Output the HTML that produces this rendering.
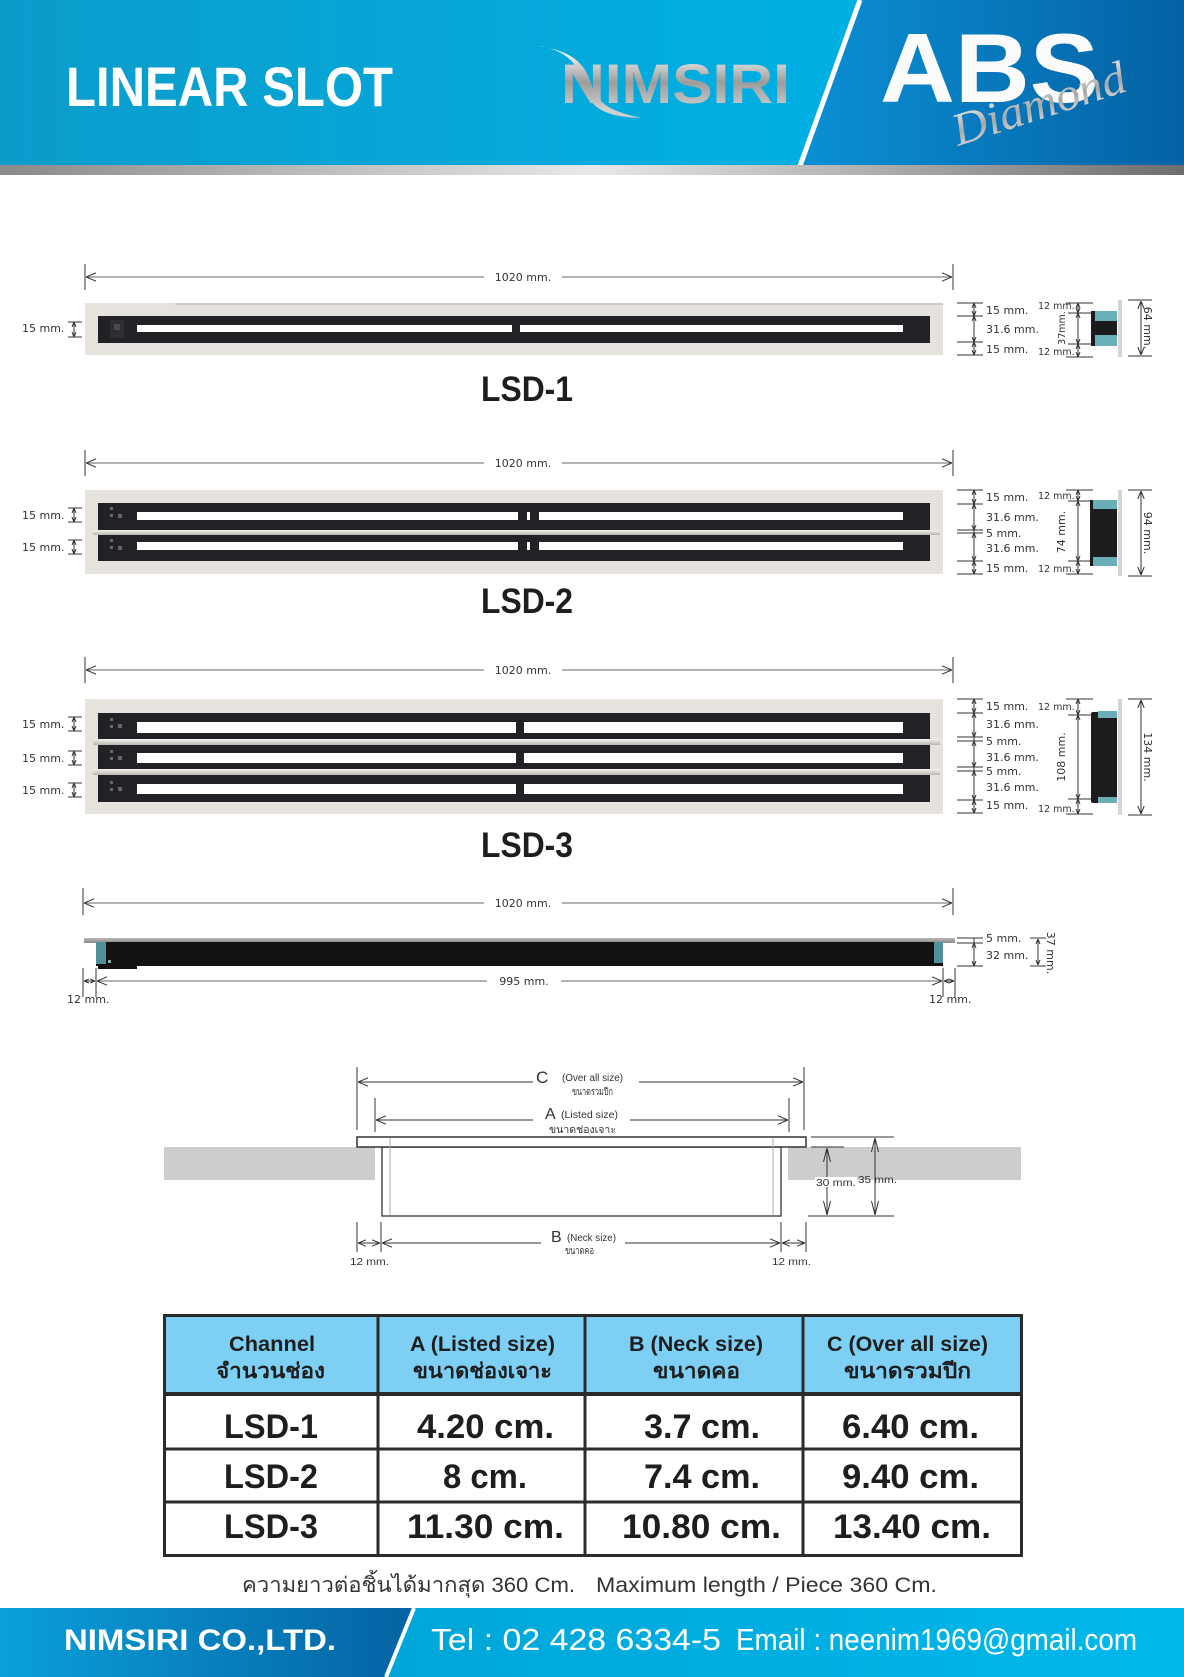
<!DOCTYPE html>
<html><head><meta charset="utf-8"><style>
html,body{margin:0;padding:0;background:#fff;}
svg{display:block;}
.d{font-family:"DejaVu Sans","Liberation Sans",sans-serif;font-size:11px;fill:#333;}
.s{font-family:"DejaVu Sans","Liberation Sans",sans-serif;font-size:9.5px;fill:#333;}
.n{font-family:"Liberation Sans","DejaVu Sans",sans-serif;fill:#333;}
.ln{stroke:#666;stroke-width:1;fill:none}
.tk{stroke:#333;stroke-width:1;fill:none}
.b{font-family:"Liberation Sans","DejaVu Sans",sans-serif;font-weight:bold;fill:#1e1e1e;}
</style></head><body>
<svg width="1184" height="1677" viewBox="0 0 1184 1677" xmlns="http://www.w3.org/2000/svg">
<defs>
<linearGradient id="hL" gradientUnits="userSpaceOnUse" x1="0" y1="0" x2="860" y2="0"><stop offset="0" stop-color="#0b9ccb"/><stop offset="1" stop-color="#00b0e3"/></linearGradient>
<linearGradient id="hR" gradientUnits="userSpaceOnUse" x1="800" y1="0" x2="1184" y2="0"><stop offset="0" stop-color="#0b8fd4"/><stop offset="1" stop-color="#0462a4"/></linearGradient>
<linearGradient id="gs" x1="0" y1="0" x2="1" y2="0"><stop offset="0" stop-color="#8a8a8a"/><stop offset="0.5" stop-color="#e8e8e8"/><stop offset="1" stop-color="#6e6e6e"/></linearGradient>
<linearGradient id="slv" gradientUnits="userSpaceOnUse" x1="0" y1="55" x2="0" y2="110"><stop offset="0" stop-color="#eeeeee"/><stop offset="0.5" stop-color="#9c9c9c"/><stop offset="1" stop-color="#d0d0d0"/></linearGradient>
<linearGradient id="dia" gradientUnits="userSpaceOnUse" x1="0" y1="-40" x2="0" y2="5"><stop offset="0" stop-color="#f2f2f2"/><stop offset="0.6" stop-color="#a8a8a8"/><stop offset="1" stop-color="#d8d8d8"/></linearGradient>
<linearGradient id="fL" gradientUnits="userSpaceOnUse" x1="0" y1="0" x2="414" y2="0"><stop offset="0" stop-color="#0aa0da"/><stop offset="1" stop-color="#0562a2"/></linearGradient>
<linearGradient id="fR" gradientUnits="userSpaceOnUse" x1="385" y1="0" x2="1184" y2="0"><stop offset="0" stop-color="#00a6d8"/><stop offset="1" stop-color="#00b8ec"/></linearGradient>
<linearGradient id="sv" x1="0" y1="0" x2="0" y2="1"><stop offset="0" stop-color="#f4f2ee"/><stop offset="1" stop-color="#b9b6b0"/></linearGradient>
<linearGradient id="sb" x1="0" y1="0" x2="0" y2="1"><stop offset="0" stop-color="#b8b8b8"/><stop offset="1" stop-color="#8a8a8a"/></linearGradient>
<marker id="a" viewBox="0 0 10 10" refX="10" refY="5" markerWidth="10" markerHeight="10" markerUnits="userSpaceOnUse" orient="auto-start-reverse"><path d="M0,0.8 L10,5 L0,9.2" fill="none" stroke="#333" stroke-width="1"/></marker>
<marker id="b" viewBox="0 0 10 10" refX="10" refY="5" markerWidth="5" markerHeight="5" markerUnits="userSpaceOnUse" orient="auto-start-reverse"><path d="M0,1 L10,5 L0,9" fill="none" stroke="#333" stroke-width="2"/></marker>
<marker id="m" viewBox="0 0 10 10" refX="10" refY="5" markerWidth="8" markerHeight="8" markerUnits="userSpaceOnUse" orient="auto-start-reverse"><path d="M0,1 L10,5 L0,9" fill="none" stroke="#333" stroke-width="1.3"/></marker>
<marker id="c" viewBox="0 0 14 8" refX="14" refY="4" markerWidth="14" markerHeight="8" markerUnits="userSpaceOnUse" orient="auto-start-reverse"><path d="M0,0.5 L14,4 L0,7.5" fill="none" stroke="#333" stroke-width="1"/></marker>
</defs>

<!-- HEADER -->
<rect x="0" y="0" width="1184" height="166" fill="url(#hL)"/>
<polygon points="859,0 1184,0 1184,166 799,166" fill="url(#hR)"/>
<line x1="860" y1="0" x2="800" y2="166" stroke="#fff" stroke-width="5"/>
<rect x="0" y="165" width="1184" height="10" fill="url(#gs)"/>
<text x="66" y="106" font-family="Liberation Sans, sans-serif" font-weight="bold" font-size="56" fill="#fff" textLength="327" lengthAdjust="spacingAndGlyphs">LINEAR SLOT</text>
<path d="M536,46 C566,48 580,66 585,88 C590,108 605,117 642,118 C612,112 598,104 592,86 C586,64 572,50 536,46 Z" fill="url(#slv)"/>
<text x="561" y="103" font-family="Liberation Sans, sans-serif" font-weight="bold" font-size="56" fill="url(#slv)" textLength="229" lengthAdjust="spacingAndGlyphs">NIMSIRI</text>
<text x="880" y="102" font-family="Liberation Sans, sans-serif" font-weight="bold" font-size="98" fill="#fbfbfb" textLength="219" lengthAdjust="spacingAndGlyphs">ABS</text>
<text x="0" y="0" transform="translate(958,146) rotate(-18)" font-family="Liberation Serif, serif" font-style="italic" font-size="46" fill="url(#dia)" textLength="180" lengthAdjust="spacingAndGlyphs">Diamond</text>

<!-- ========== LSD-1 ========== -->
<line x1="85" y1="264" x2="85" y2="290" class="tk"/>
<line x1="953" y1="264" x2="953" y2="290" class="tk"/>
<line x1="86" y1="277" x2="952" y2="277" class="ln" marker-start="url(#a)" marker-end="url(#a)"/>
<rect x="484" y="270" width="78" height="14" fill="#fff"/>
<text x="523" y="281" class="d" text-anchor="middle">1020 mm.</text>

<text x="22" y="332" class="d">15 mm.</text>
<line x1="68" y1="322" x2="82" y2="322" class="tk"/><line x1="68" y1="337" x2="82" y2="337" class="tk"/>
<line x1="74" y1="322" x2="74" y2="337" class="tk" marker-start="url(#b)" marker-end="url(#b)"/>

<rect x="85" y="303" width="858" height="52" fill="#e6e3de"/>
<rect x="175" y="303" width="768" height="2" fill="#cfccc7"/>
<rect x="98" y="316" width="832" height="27" fill="#222226"/>
<rect x="137" y="325" width="375" height="7" fill="#fff"/>
<rect x="520" y="325" width="383" height="7" fill="#fff"/>
<rect x="110" y="320" width="14" height="18" fill="#2e2e32"/>
<rect x="114" y="324" width="6" height="6" fill="#4a4a4e"/>

<g class="tk">
<line x1="957" y1="303" x2="983" y2="303"/><line x1="957" y1="316" x2="983" y2="316"/>
<line x1="957" y1="342" x2="983" y2="342"/><line x1="957" y1="355" x2="983" y2="355"/>
</g>
<line x1="974" y1="303" x2="974" y2="316" class="tk" marker-start="url(#b)" marker-end="url(#b)"/>
<line x1="974" y1="316" x2="974" y2="342" class="tk" marker-start="url(#b)" marker-end="url(#b)"/>
<line x1="974" y1="342" x2="974" y2="355" class="tk" marker-start="url(#b)" marker-end="url(#b)"/>
<text x="986" y="314" class="d">15 mm.</text>
<text x="986" y="333" class="d">31.6 mm.</text>
<text x="986" y="353" class="d">15 mm.</text>

<g class="tk">
<line x1="1066" y1="303" x2="1093" y2="303"/><line x1="1068" y1="313" x2="1100" y2="313"/>
<line x1="1068" y1="344" x2="1100" y2="344"/><line x1="1066" y1="357" x2="1093" y2="357"/>
</g>
<line x1="1078" y1="303" x2="1078" y2="313" class="tk" marker-start="url(#b)" marker-end="url(#b)"/>
<line x1="1078" y1="313" x2="1078" y2="344" class="tk" marker-start="url(#b)" marker-end="url(#b)"/>
<line x1="1078" y1="344" x2="1078" y2="357" class="tk" marker-start="url(#b)" marker-end="url(#b)"/>
<text x="1038" y="309" class="s">12 mm.</text>
<text x="1038" y="355" class="s">12 mm.</text>
<text x="0" y="0" transform="translate(1065,328) rotate(-90)" class="s" text-anchor="middle">37mm.</text>
<rect x="1091" y="311" width="26" height="35" fill="#1c1c1e"/>
<rect x="1095" y="311" width="22" height="10" fill="#6aaeb8"/>
<rect x="1095" y="335" width="22" height="11" fill="#6aaeb8"/>
<rect x="1118" y="300" width="4" height="57" fill="#d6d6d6"/>
<line x1="1128" y1="300" x2="1152" y2="300" class="tk"/><line x1="1128" y1="356" x2="1152" y2="356" class="tk"/>
<line x1="1141" y1="301" x2="1141" y2="355" class="tk" marker-start="url(#m)" marker-end="url(#m)"/>
<text x="0" y="0" transform="translate(1144,328) rotate(90)" class="d" text-anchor="middle">64 mm.</text>

<text x="481" y="401" class="b" font-size="35" textLength="92" lengthAdjust="spacingAndGlyphs">LSD-1</text>

<!-- ========== LSD-2 ========== -->
<line x1="85" y1="450" x2="85" y2="476" class="tk"/>
<line x1="953" y1="450" x2="953" y2="476" class="tk"/>
<line x1="86" y1="463" x2="952" y2="463" class="ln" marker-start="url(#a)" marker-end="url(#a)"/>
<rect x="484" y="456" width="78" height="14" fill="#fff"/>
<text x="523" y="467" class="d" text-anchor="middle">1020 mm.</text>

<text x="22" y="519" class="d">15 mm.</text>
<line x1="68" y1="508" x2="82" y2="508" class="tk"/><line x1="68" y1="522" x2="82" y2="522" class="tk"/>
<line x1="74" y1="508" x2="74" y2="522" class="tk" marker-start="url(#b)" marker-end="url(#b)"/>
<text x="22" y="551" class="d">15 mm.</text>
<line x1="68" y1="540" x2="82" y2="540" class="tk"/><line x1="68" y1="554" x2="82" y2="554" class="tk"/>
<line x1="74" y1="540" x2="74" y2="554" class="tk" marker-start="url(#b)" marker-end="url(#b)"/>

<rect x="85" y="490" width="858" height="84" fill="#e6e3de"/>
<rect x="98" y="503" width="832" height="58" fill="#222226"/>
<rect x="137" y="512" width="381" height="8" fill="#fff"/>
<rect x="527" y="512" width="3" height="8" fill="#fff"/>
<rect x="539" y="512" width="364" height="8" fill="#fff"/>
<rect x="93" y="530" width="847" height="5" fill="url(#sv)"/>
<rect x="137" y="542" width="381" height="8" fill="#fff"/>
<rect x="527" y="542" width="3" height="8" fill="#fff"/>
<rect x="539" y="542" width="364" height="8" fill="#fff"/>
<rect x="110" y="507" width="3" height="3" fill="#666"/><rect x="110" y="514" width="3" height="3" fill="#666"/><rect x="118" y="514" width="4" height="4" fill="#666"/>
<rect x="110" y="539" width="3" height="3" fill="#666"/><rect x="110" y="546" width="3" height="3" fill="#666"/><rect x="118" y="546" width="4" height="4" fill="#666"/>

<g class="tk">
<line x1="957" y1="490" x2="983" y2="490"/><line x1="957" y1="504" x2="983" y2="504"/>
<line x1="957" y1="530" x2="983" y2="530"/><line x1="957" y1="533" x2="983" y2="533"/>
<line x1="957" y1="561" x2="983" y2="561"/><line x1="957" y1="574" x2="983" y2="574"/>
</g>
<line x1="974" y1="490" x2="974" y2="504" class="tk" marker-start="url(#b)" marker-end="url(#b)"/>
<line x1="974" y1="504" x2="974" y2="530" class="tk" marker-start="url(#b)" marker-end="url(#b)"/>
<line x1="974" y1="530" x2="974" y2="533" class="tk"/>
<line x1="974" y1="533" x2="974" y2="561" class="tk" marker-start="url(#b)" marker-end="url(#b)"/>
<line x1="974" y1="561" x2="974" y2="574" class="tk" marker-start="url(#b)" marker-end="url(#b)"/>
<text x="986" y="501" class="d">15 mm.</text>
<text x="986" y="521" class="d">31.6 mm.</text>
<text x="986" y="537" class="d">5 mm.</text>
<text x="986" y="552" class="d">31.6 mm.</text>
<text x="986" y="572" class="d">15 mm.</text>

<g class="tk">
<line x1="1066" y1="490" x2="1093" y2="490"/><line x1="1068" y1="501" x2="1100" y2="501"/>
<line x1="1068" y1="561" x2="1100" y2="561"/><line x1="1066" y1="574" x2="1093" y2="574"/>
</g>
<line x1="1078" y1="490" x2="1078" y2="501" class="tk" marker-start="url(#b)" marker-end="url(#b)"/>
<line x1="1078" y1="501" x2="1078" y2="561" class="tk" marker-start="url(#b)" marker-end="url(#b)"/>
<line x1="1078" y1="561" x2="1078" y2="574" class="tk" marker-start="url(#b)" marker-end="url(#b)"/>
<text x="1038" y="499" class="s">12 mm.</text>
<text x="1038" y="572" class="s">12 mm.</text>
<text x="0" y="0" transform="translate(1065,532) rotate(-90)" class="d" text-anchor="middle">74 mm.</text>
<rect x="1090" y="500" width="27" height="66" fill="#1c1c1e"/>
<rect x="1093" y="500" width="24" height="9" fill="#6aaeb8"/>
<rect x="1093" y="557" width="24" height="9" fill="#6aaeb8"/>
<rect x="1118" y="490" width="4" height="86" fill="#d6d6d6"/>
<line x1="1128" y1="490" x2="1152" y2="490" class="tk"/><line x1="1128" y1="576" x2="1152" y2="576" class="tk"/>
<line x1="1141" y1="491" x2="1141" y2="575" class="tk" marker-start="url(#m)" marker-end="url(#m)"/>
<text x="0" y="0" transform="translate(1144,533) rotate(90)" class="d" text-anchor="middle">94 mm.</text>

<text x="481" y="613" class="b" font-size="35" textLength="92" lengthAdjust="spacingAndGlyphs">LSD-2</text>

<!-- ========== LSD-3 ========== -->
<line x1="85" y1="657" x2="85" y2="683" class="tk"/>
<line x1="953" y1="657" x2="953" y2="683" class="tk"/>
<line x1="86" y1="670" x2="952" y2="670" class="ln" marker-start="url(#a)" marker-end="url(#a)"/>
<rect x="484" y="663" width="78" height="14" fill="#fff"/>
<text x="523" y="674" class="d" text-anchor="middle">1020 mm.</text>

<text x="22" y="728" class="d">15 mm.</text>
<line x1="68" y1="717" x2="82" y2="717" class="tk"/><line x1="68" y1="731" x2="82" y2="731" class="tk"/>
<line x1="74" y1="717" x2="74" y2="731" class="tk" marker-start="url(#b)" marker-end="url(#b)"/>
<text x="22" y="762" class="d">15 mm.</text>
<line x1="68" y1="751" x2="82" y2="751" class="tk"/><line x1="68" y1="765" x2="82" y2="765" class="tk"/>
<line x1="74" y1="751" x2="74" y2="765" class="tk" marker-start="url(#b)" marker-end="url(#b)"/>
<text x="22" y="794" class="d">15 mm.</text>
<line x1="68" y1="783" x2="82" y2="783" class="tk"/><line x1="68" y1="797" x2="82" y2="797" class="tk"/>
<line x1="74" y1="783" x2="74" y2="797" class="tk" marker-start="url(#b)" marker-end="url(#b)"/>

<rect x="85" y="699" width="858" height="115" fill="#e6e3de"/>
<rect x="98" y="713" width="832" height="89" fill="#222226"/>
<rect x="137" y="722" width="379" height="11" fill="#fff"/>
<rect x="524" y="722" width="379" height="11" fill="#fff"/>
<rect x="93" y="739" width="847" height="6" fill="url(#sv)"/>
<rect x="137" y="753" width="379" height="10" fill="#fff"/>
<rect x="524" y="753" width="379" height="10" fill="#fff"/>
<rect x="93" y="769" width="847" height="6" fill="url(#sv)"/>
<rect x="137" y="784" width="379" height="10" fill="#fff"/>
<rect x="524" y="784" width="379" height="10" fill="#fff"/>
<rect x="110" y="718" width="3" height="3" fill="#666"/><rect x="110" y="725" width="3" height="3" fill="#666"/><rect x="118" y="724" width="4" height="4" fill="#666"/>
<rect x="110" y="750" width="3" height="3" fill="#666"/><rect x="110" y="757" width="3" height="3" fill="#666"/><rect x="118" y="756" width="4" height="4" fill="#666"/>
<rect x="110" y="781" width="3" height="3" fill="#666"/><rect x="110" y="788" width="3" height="3" fill="#666"/><rect x="118" y="787" width="4" height="4" fill="#666"/>

<g class="tk">
<line x1="957" y1="699" x2="983" y2="699"/><line x1="957" y1="713" x2="983" y2="713"/>
<line x1="957" y1="737" x2="983" y2="737"/><line x1="957" y1="741" x2="983" y2="741"/>
<line x1="957" y1="767" x2="983" y2="767"/><line x1="957" y1="771" x2="983" y2="771"/>
<line x1="957" y1="800" x2="983" y2="800"/><line x1="957" y1="813" x2="983" y2="813"/>
</g>
<line x1="974" y1="699" x2="974" y2="713" class="tk" marker-start="url(#b)" marker-end="url(#b)"/>
<line x1="974" y1="713" x2="974" y2="737" class="tk" marker-start="url(#b)" marker-end="url(#b)"/>
<line x1="974" y1="737" x2="974" y2="741" class="tk"/>
<line x1="974" y1="741" x2="974" y2="767" class="tk" marker-start="url(#b)" marker-end="url(#b)"/>
<line x1="974" y1="767" x2="974" y2="771" class="tk"/>
<line x1="974" y1="771" x2="974" y2="800" class="tk" marker-start="url(#b)" marker-end="url(#b)"/>
<line x1="974" y1="800" x2="974" y2="813" class="tk" marker-start="url(#b)" marker-end="url(#b)"/>
<text x="986" y="710" class="d">15 mm.</text>
<text x="986" y="728" class="d">31.6 mm.</text>
<text x="986" y="745" class="d">5 mm.</text>
<text x="986" y="761" class="d">31.6 mm.</text>
<text x="986" y="775" class="d">5 mm.</text>
<text x="986" y="791" class="d">31.6 mm.</text>
<text x="986" y="809" class="d">15 mm.</text>

<g class="tk">
<line x1="1066" y1="699" x2="1093" y2="699"/><line x1="1068" y1="715" x2="1100" y2="715"/>
<line x1="1068" y1="799" x2="1100" y2="799"/><line x1="1066" y1="814" x2="1093" y2="814"/>
</g>
<line x1="1078" y1="699" x2="1078" y2="715" class="tk" marker-start="url(#b)" marker-end="url(#b)"/>
<line x1="1078" y1="715" x2="1078" y2="799" class="tk" marker-start="url(#b)" marker-end="url(#b)"/>
<line x1="1078" y1="799" x2="1078" y2="814" class="tk" marker-start="url(#b)" marker-end="url(#b)"/>
<text x="1038" y="710" class="s">12 mm.</text>
<text x="1038" y="812" class="s">12 mm.</text>
<text x="0" y="0" transform="translate(1065,757) rotate(-90)" class="d" text-anchor="middle">108 mm.</text>
<rect x="1091" y="712" width="26" height="91" rx="2" fill="#1c1c1e"/>
<rect x="1098" y="711" width="19" height="7" fill="#6aaeb8"/>
<rect x="1098" y="797" width="19" height="6" fill="#6aaeb8"/>
<rect x="1118" y="699" width="4" height="116" fill="#d6d6d6"/>
<line x1="1128" y1="699" x2="1152" y2="699" class="tk"/><line x1="1128" y1="815" x2="1152" y2="815" class="tk"/>
<line x1="1141" y1="700" x2="1141" y2="814" class="tk" marker-start="url(#m)" marker-end="url(#m)"/>
<text x="0" y="0" transform="translate(1144,757) rotate(90)" class="d" text-anchor="middle">134 mm.</text>

<text x="481" y="857" class="b" font-size="35" textLength="92" lengthAdjust="spacingAndGlyphs">LSD-3</text>

<!-- ========== SIDE PROFILE ========== -->
<line x1="83" y1="888" x2="83" y2="915" class="tk"/>
<line x1="953" y1="888" x2="953" y2="915" class="tk"/>
<line x1="84" y1="903" x2="952" y2="903" class="ln" marker-start="url(#a)" marker-end="url(#a)"/>
<rect x="484" y="896" width="78" height="14" fill="#fff"/>
<text x="523" y="907" class="d" text-anchor="middle">1020 mm.</text>

<rect x="84" y="938" width="871" height="5" fill="url(#sb)"/>
<rect x="96" y="942" width="847" height="24" fill="#111"/>
<rect x="98" y="962" width="39" height="7" fill="#111"/>
<rect x="96" y="942" width="10" height="22" fill="#4f909b"/>
<rect x="934" y="942" width="9" height="21" fill="#4f909b"/>
<rect x="108" y="960" width="3" height="3" fill="#8aa"/>

<line x1="83" y1="968" x2="83" y2="997" class="tk"/>
<line x1="96" y1="968" x2="96" y2="997" class="tk"/>
<line x1="943" y1="968" x2="943" y2="997" class="tk"/>
<line x1="955" y1="968" x2="955" y2="997" class="tk"/>
<line x1="84" y1="981" x2="95" y2="981" class="tk" marker-start="url(#b)" marker-end="url(#b)"/>
<line x1="97" y1="981" x2="942" y2="981" class="ln" marker-start="url(#a)" marker-end="url(#a)"/>
<line x1="944" y1="981" x2="954" y2="981" class="tk" marker-start="url(#b)" marker-end="url(#b)"/>
<rect x="487" y="974" width="74" height="14" fill="#fff"/>
<text x="524" y="985" class="d" text-anchor="middle">995 mm.</text>
<text x="67" y="1003" class="d" font-size="11.5">12 mm.</text>
<text x="929" y="1003" class="d" font-size="11.5">12 mm.</text>

<g class="tk">
<line x1="957" y1="938" x2="983" y2="938"/><line x1="957" y1="943" x2="983" y2="943"/><line x1="957" y1="966" x2="983" y2="966"/>
<line x1="1030" y1="938" x2="1046" y2="938"/><line x1="1030" y1="966" x2="1046" y2="966"/>
</g>
<line x1="974" y1="938" x2="974" y2="943" class="tk"/>
<line x1="974" y1="943" x2="974" y2="966" class="tk" marker-start="url(#b)" marker-end="url(#b)"/>
<text x="986" y="942" class="d">5 mm.</text>
<text x="986" y="959" class="d">32 mm.</text>
<line x1="1038" y1="939" x2="1038" y2="965" class="tk" marker-start="url(#b)" marker-end="url(#b)"/>
<text x="0" y="0" transform="translate(1047,953) rotate(90)" class="d" text-anchor="middle">37 mm.</text>

<!-- ========== CROSS SECTION ========== -->
<rect x="164" y="1147" width="211" height="33" fill="#cdcdcd"/>
<rect x="788" y="1147" width="233" height="33" fill="#cdcdcd"/>
<rect x="382" y="1147" width="399" height="69" fill="#fff" stroke="#333" stroke-width="1.3"/>
<rect x="357" y="1137" width="449" height="10" fill="#fff" stroke="#333" stroke-width="1.5"/>
<line x1="390" y1="1138" x2="390" y2="1215" stroke="#aaa" stroke-width="1"/>
<line x1="773" y1="1138" x2="773" y2="1215" stroke="#aaa" stroke-width="1"/>

<line x1="357" y1="1067" x2="357" y2="1130" class="tk"/>
<line x1="804" y1="1067" x2="804" y2="1130" class="tk"/>
<line x1="358" y1="1082" x2="803" y2="1082" class="tk" marker-start="url(#a)" marker-end="url(#a)"/>
<rect x="533" y="1078" width="106" height="8" fill="#fff"/>
<text x="536" y="1083" class="n" font-size="17">C</text>
<text x="562" y="1081" class="n" font-size="10" textLength="61" lengthAdjust="spacingAndGlyphs">(Over all size)</text>
<text x="572" y="1095" class="n" font-size="10" textLength="41" lengthAdjust="spacingAndGlyphs">ขนาดรวมปีก</text>

<line x1="375" y1="1098" x2="375" y2="1132" class="tk"/>
<line x1="789" y1="1098" x2="789" y2="1132" class="tk"/>
<line x1="376" y1="1120" x2="788" y2="1120" class="tk" marker-start="url(#a)" marker-end="url(#a)"/>
<rect x="533" y="1116" width="97" height="8" fill="#fff"/>
<text x="545" y="1119" class="n" font-size="16">A</text>
<text x="561" y="1118" class="n" font-size="10" textLength="57" lengthAdjust="spacingAndGlyphs">(Listed size)</text>
<text x="549" y="1133" class="n" font-size="10" textLength="67" lengthAdjust="spacingAndGlyphs">ขนาดช่องเจาะ</text>

<line x1="357" y1="1222" x2="357" y2="1252" class="tk"/>
<line x1="381" y1="1222" x2="381" y2="1252" class="tk"/>
<line x1="781" y1="1222" x2="781" y2="1252" class="tk"/>
<line x1="806" y1="1222" x2="806" y2="1252" class="tk"/>
<line x1="358" y1="1243" x2="380" y2="1243" class="tk" marker-start="url(#m)" marker-end="url(#m)"/>
<line x1="382" y1="1243" x2="780" y2="1243" class="tk" marker-start="url(#a)" marker-end="url(#a)"/>
<line x1="782" y1="1243" x2="805" y2="1243" class="tk" marker-start="url(#m)" marker-end="url(#m)"/>
<rect x="541" y="1239" width="84" height="8" fill="#fff"/>
<text x="551" y="1242" class="n" font-size="16">B</text>
<text x="567" y="1241" class="n" font-size="10" textLength="49" lengthAdjust="spacingAndGlyphs">(Neck size)</text>
<text x="565" y="1254" class="n" font-size="10" textLength="29" lengthAdjust="spacingAndGlyphs">ขนาดคอ</text>
<text x="350" y="1265" class="n" font-size="10.5" textLength="39" lengthAdjust="spacingAndGlyphs">12 mm.</text>
<text x="772" y="1265" class="n" font-size="10.5" textLength="39" lengthAdjust="spacingAndGlyphs">12 mm.</text>

<line x1="811" y1="1137" x2="894" y2="1137" class="tk"/>
<line x1="811" y1="1147" x2="844" y2="1147" class="tk"/>
<line x1="808" y1="1216" x2="894" y2="1216" class="tk"/>
<line x1="827" y1="1148" x2="827" y2="1215" class="tk" marker-start="url(#c)" marker-end="url(#c)"/>
<line x1="875" y1="1138" x2="875" y2="1215" class="tk" marker-start="url(#c)" marker-end="url(#c)"/>
<rect x="815" y="1177" width="42" height="10" fill="#fff"/>
<text x="816" y="1186" class="n" font-size="10.5" textLength="40" lengthAdjust="spacingAndGlyphs">30 mm.</text>
<text x="858" y="1183" class="n" font-size="10.5" textLength="39" lengthAdjust="spacingAndGlyphs">35 mm.</text>

<!-- ========== TABLE ========== -->
<rect x="164" y="1315" width="858" height="241" fill="#fff"/>
<rect x="164" y="1315" width="858" height="79" fill="#7dcff3"/>
<g stroke="#2b2b2b" fill="none">
<line x1="163" y1="1394" x2="1023" y2="1394" stroke-width="4"/>
<line x1="163" y1="1449" x2="1023" y2="1449" stroke-width="3"/>
<line x1="163" y1="1502" x2="1023" y2="1502" stroke-width="3"/>
<line x1="378" y1="1314" x2="378" y2="1557" stroke-width="3"/>
<line x1="585" y1="1314" x2="585" y2="1557" stroke-width="3"/>
<line x1="803" y1="1314" x2="803" y2="1557" stroke-width="3"/>
<rect x="164.5" y="1315.5" width="857" height="240" stroke-width="3"/>
</g>
<text x="229" y="1351" class="b" font-size="21" textLength="86" lengthAdjust="spacingAndGlyphs">Channel</text>
<text x="216" y="1378" class="b" font-size="21" textLength="109" lengthAdjust="spacingAndGlyphs">จำนวนช่อง</text>
<text x="410" y="1351" class="b" font-size="21" textLength="145" lengthAdjust="spacingAndGlyphs">A (Listed size)</text>
<text x="413" y="1378" class="b" font-size="21" textLength="139" lengthAdjust="spacingAndGlyphs">ขนาดช่องเจาะ</text>
<text x="629" y="1351" class="b" font-size="21" textLength="134" lengthAdjust="spacingAndGlyphs">B (Neck size)</text>
<text x="653" y="1378" class="b" font-size="21" textLength="87" lengthAdjust="spacingAndGlyphs">ขนาดคอ</text>
<text x="827" y="1351" class="b" font-size="21" textLength="161" lengthAdjust="spacingAndGlyphs">C (Over all size)</text>
<text x="844" y="1378" class="b" font-size="21" textLength="127" lengthAdjust="spacingAndGlyphs">ขนาดรวมปีก</text>

<text x="224" y="1438" class="b" font-size="34" textLength="94" lengthAdjust="spacingAndGlyphs">LSD-1</text>
<text x="417" y="1438" class="b" font-size="34" textLength="137" lengthAdjust="spacingAndGlyphs">4.20 cm.</text>
<text x="644" y="1438" class="b" font-size="34" textLength="116" lengthAdjust="spacingAndGlyphs">3.7 cm.</text>
<text x="842" y="1438" class="b" font-size="34" textLength="137" lengthAdjust="spacingAndGlyphs">6.40 cm.</text>

<text x="224" y="1488" class="b" font-size="34" textLength="94" lengthAdjust="spacingAndGlyphs">LSD-2</text>
<text x="443" y="1488" class="b" font-size="34" textLength="84" lengthAdjust="spacingAndGlyphs">8 cm.</text>
<text x="644" y="1488" class="b" font-size="34" textLength="116" lengthAdjust="spacingAndGlyphs">7.4 cm.</text>
<text x="842" y="1488" class="b" font-size="34" textLength="137" lengthAdjust="spacingAndGlyphs">9.40 cm.</text>

<text x="224" y="1538" class="b" font-size="34" textLength="94" lengthAdjust="spacingAndGlyphs">LSD-3</text>
<text x="407" y="1538" class="b" font-size="34" textLength="157" lengthAdjust="spacingAndGlyphs">11.30 cm.</text>
<text x="622" y="1538" class="b" font-size="34" textLength="159" lengthAdjust="spacingAndGlyphs">10.80 cm.</text>
<text x="833" y="1538" class="b" font-size="34" textLength="158" lengthAdjust="spacingAndGlyphs">13.40 cm.</text>

<text x="242" y="1592" class="n" font-size="21" textLength="333" lengthAdjust="spacingAndGlyphs">ความยาวต่อชิ้นได้มากสุด 360 Cm.</text>
<text x="596" y="1592" class="n" font-size="21" textLength="341" lengthAdjust="spacingAndGlyphs">Maximum length / Piece 360 Cm.</text>

<!-- ========== FOOTER ========== -->
<rect x="0" y="1608" width="1184" height="69" fill="url(#fR)"/>
<polygon points="0,1608 414,1608 385,1677 0,1677" fill="url(#fL)"/>
<line x1="414" y1="1608" x2="386" y2="1677" stroke="#fff" stroke-width="4"/>
<text x="64" y="1650" font-family="Liberation Sans, sans-serif" font-weight="bold" font-size="30" fill="#fff" textLength="272" lengthAdjust="spacingAndGlyphs">NIMSIRI CO.,LTD.</text>
<text x="431" y="1650" font-family="Liberation Sans, sans-serif" font-size="31" fill="#fff" textLength="290" lengthAdjust="spacingAndGlyphs">Tel : 02 428 6334-5</text>
<text x="736" y="1650" font-family="Liberation Sans, sans-serif" font-size="31" fill="#fff" textLength="401" lengthAdjust="spacingAndGlyphs">Email : neenim1969@gmail.com</text>
</svg>
</body></html>
